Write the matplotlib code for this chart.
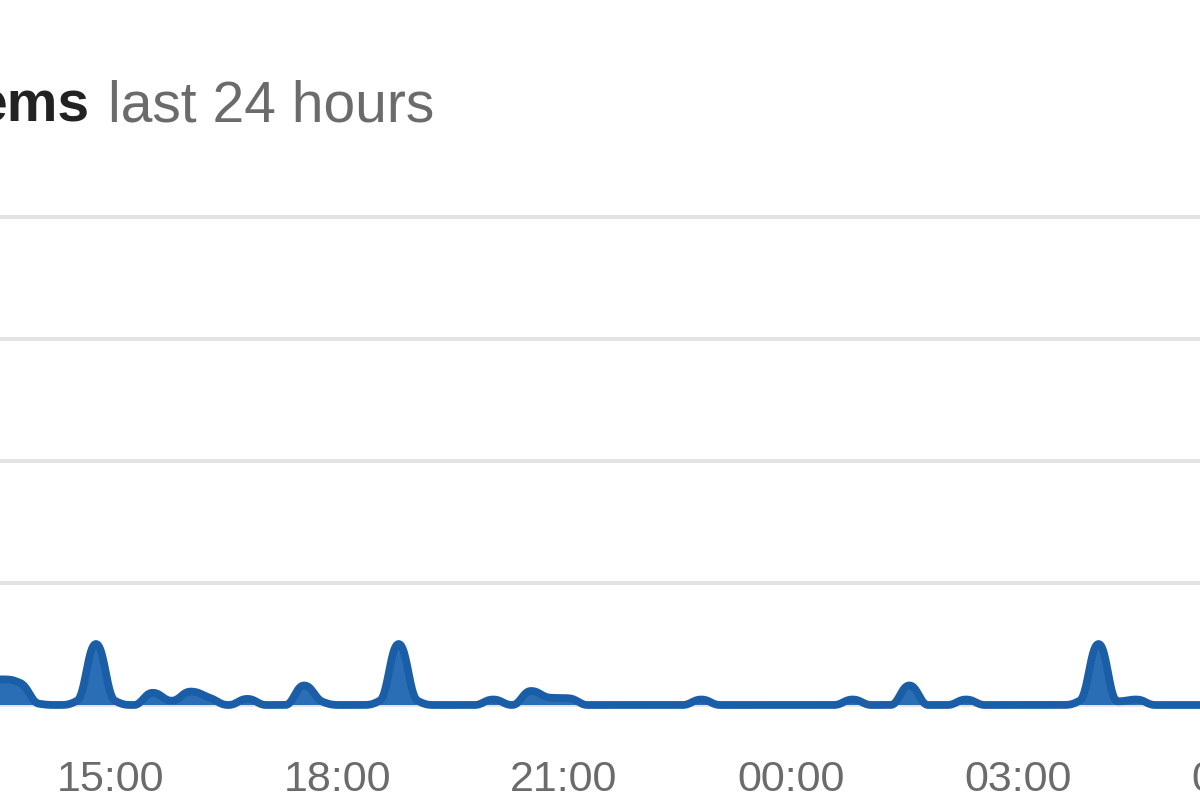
import numpy as np
import matplotlib
matplotlib.use("Agg")
import matplotlib.pyplot as plt

# ---- data (hours; 24+ means next day) ----
start_hour = 13.065          # first sample ~13:04
step_hours = 0.25            # 15-minute samples
values = [0.0, 0.30, 0.42, 0.36, 0.02, 0.0, 0.07,   # up to ~14:34
          1.0, 0.07, 0.0, 0.20, 0.07, 0.22, 0.12, 0.0, 0.10, 0.0,
          0.0, 0.32, 0.05, 0.0, 0.0, 0.07,
          1.0, 0.07, 0.0, 0.0, 0.0, 0.09, 0.0, 0.23, 0.12, 0.11, 0.0,
          0.0, 0.0, 0.0, 0.0, 0.0, 0.09, 0.0,
          0.0, 0.0, 0.0, 0.0, 0.0, 0.0, 0.09, 0.0, 0.0, 0.32, 0.0, 0.0, 0.09, 0.0,
          0.0, 0.0, 0.0, 0.0, 0.07, 1.0, 0.06, 0.09, 0.0, 0.0, 0.0, 0.0]
times = start_hour + step_hours * np.arange(len(values))

tick_pos = [15, 18, 21, 24, 27, 30]
tick_labels = ["15:00", "18:00", "21:00", "00:00", "03:00", "06:00"]
y_ticks = [0, 2, 4, 6, 8]
title_bold = "ems"
title_rest = "last 24 hours"

W, H = 1200, 800
px_per_hour = 227.0 / 3.0
x0_hour = 15 - 110 / px_per_hour
x1_hour = 15 + (W - 110) / px_per_hour
base_px = 705.0
top_px = 217.0
px_per_unit = (base_px - top_px) / 8.0


def spline_path(xs, ys, smoothing=1.3, n=24):
    """Highcharts-style spline through the points (rendering only)."""
    xs = np.asarray(xs, float); ys = np.asarray(ys, float)
    m = len(xs)
    lcx = xs.copy(); lcy = ys.copy(); rcx = xs.copy(); rcy = ys.copy()
    d = smoothing + 1
    for i in range(1, m - 1):
        px, py = xs[i], ys[i]
        lx, ly = xs[i - 1], ys[i - 1]
        nx, ny = xs[i + 1], ys[i + 1]
        a = (smoothing * px + lx) / d
        b = (smoothing * py + ly) / d
        c = (smoothing * px + nx) / d
        e = (smoothing * py + ny) / d
        corr = 0.0
        if c != a:
            corr = (e - b) * (c - px) / (c - a) + py - e
        b += corr; e += corr
        if b > ly and b > py:
            b = max(ly, py); e = 2 * py - b
        elif b < ly and b < py:
            b = min(ly, py); e = 2 * py - b
        if e > ny and e > py:
            e = max(ny, py); b = 2 * py - e
        elif e < ny and e < py:
            e = min(ny, py); b = 2 * py - e
        lcx[i], lcy[i], rcx[i], rcy[i] = a, b, c, e
    t = np.linspace(0, 1, n)[:, None]
    outx, outy = [xs[0]], [ys[0]]
    for i in range(1, m):
        P0 = np.array([xs[i - 1], ys[i - 1]])
        P1 = np.array([rcx[i - 1], rcy[i - 1]])
        P2 = np.array([lcx[i], lcy[i]])
        P3 = np.array([xs[i], ys[i]])
        B = ((1 - t) ** 3) * P0 + 3 * ((1 - t) ** 2) * t * P1 + 3 * (1 - t) * t ** 2 * P2 + t ** 3 * P3
        outx.extend(B[1:, 0]); outy.extend(B[1:, 1])
    return np.array(outx), np.array(outy)


fig = plt.figure(figsize=(12, 8), dpi=100)
fig.patch.set_facecolor("white")

ax_bottom_px = 735.0
ax = fig.add_axes([0, 1 - ax_bottom_px / H, 1, ax_bottom_px / H])

for s in ax.spines.values():
    s.set_visible(False)
ax.set_yticks(y_ticks)
ax.set_yticklabels([])
ax.tick_params(axis="y", length=0)
ax.grid(axis="y", color="#e3e3e3", linewidth=2.8)
ax.set_axisbelow(True)

label_pad = 18
ax.set_xticks(tick_pos)
ax.set_xticklabels(tick_labels)
ax.tick_params(axis="x", length=0, pad=label_pad, labelsize=31, labelcolor="#6b6b6b")
for lab in ax.get_xticklabels():
    lab.set_fontfamily("Liberation Sans")

cx, cy = spline_path(times, values)
ax.fill_between(cx, 0, cy, color="#2a6fb6", linewidth=0, zorder=2)
ax.plot(cx, cy, color="#1b5ea8", linewidth=5.6, solid_capstyle="round",
        solid_joinstyle="round", zorder=3)

# limits last (set_xticks would otherwise widen them)
ax.set_xlim(x0_hour, x1_hour)
ax.set_ylim(-(ax_bottom_px - base_px) / px_per_unit, base_px / px_per_unit)

# the tick beyond the right edge is still partly visible in the reference
ax.annotate(tick_labels[-1], xy=(tick_pos[-1], 0), xycoords=("data", "axes fraction"),
            xytext=(0, -label_pad), textcoords="offset points", ha="center", va="top",
            fontsize=31, color="#6b6b6b", family="Liberation Sans", annotation_clip=False)

fig.text(90 / W, 1 - 122 / H, title_bold, ha="right", va="baseline",
         fontsize=41, fontweight="bold", color="#222222", family="Liberation Sans")
fig.text(108 / W, 1 - 122 / H, title_rest, ha="left", va="baseline",
         fontsize=41, color="#6b6b6b", family="Liberation Sans")

fig.savefig("out.png", dpi=100, facecolor="white")
